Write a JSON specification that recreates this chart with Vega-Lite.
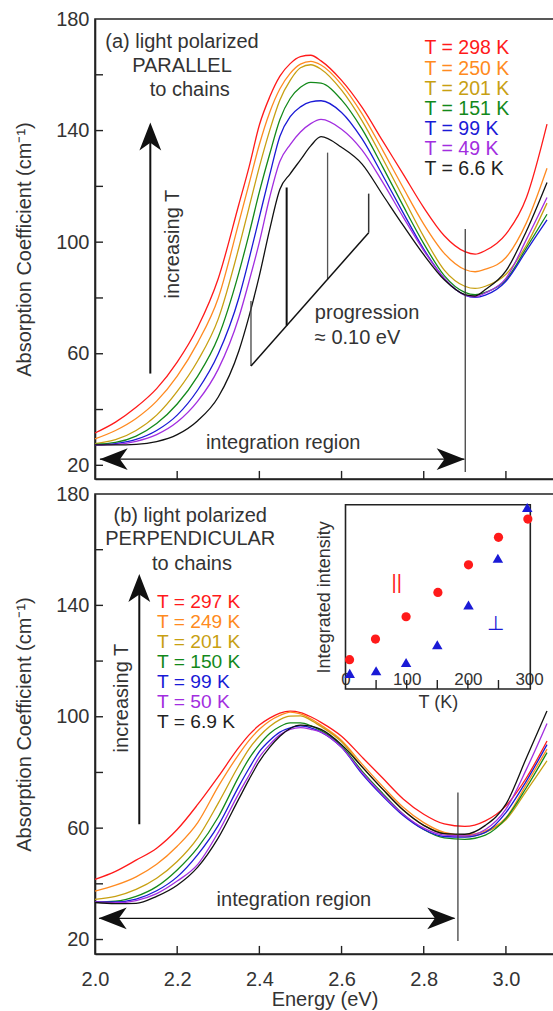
{
 "$schema": "https://vega.github.io/schema/vega-lite/v6.json",
 "padding": {"left": 13, "top": 8, "right": 0, "bottom": 0},
 "spacing": 15,
 "bounds": "flush",
 "config": {
  "font": "Liberation Sans",
  "view": {"stroke": "#222", "strokeWidth": 1.6},
  "axis": {"grid": false, "domainColor": "#222", "domainWidth": 1.6, "tickColor": "#222", "tickWidth": 1.4, "tickOpacity": 0, "labelColor": "#333", "titleColor": "#333", "labelFont": "Liberation Sans", "titleFont": "Liberation Sans", "labelFontSize": 20, "titleFontSize": 20, "titleFontWeight": "normal", "labelFlush": false, "labelOverlap": false},
  "text": {"font": "Liberation Sans", "fontSize": 20}
 },
 "datasets": {
  "a": [
   {"E":2.0,"c1":31.6,"c2":29.5,"c3":27.8,"c4":27.5,"c5":27.3,"c6":27.3,"c7":27.3},
   {"E":2.05,"c1":35.5,"c2":32.5,"c3":29.2,"c4":28.2,"c5":27.8,"c6":27.5,"c7":27.3},
   {"E":2.1,"c1":40.8,"c2":36.8,"c3":32.5,"c4":30.5,"c5":29.3,"c6":28.6,"c7":27.5},
   {"E":2.15,"c1":47.5,"c2":43,"c3":38,"c4":35,"c5":32.5,"c6":31,"c7":28.5},
   {"E":2.2,"c1":57,"c2":52,"c3":46.5,"c4":42,"c5":38,"c6":35.5,"c7":31},
   {"E":2.25,"c1":69.5,"c2":64,"c3":57.5,"c4":52,"c5":47,"c6":43,"c7":36},
   {"E":2.3,"c1":87,"c2":80,"c3":72.5,"c4":66,"c5":60,"c6":54.5,"c7":44.5},
   {"E":2.35,"c1":113.5,"c2":107,"c3":98,"c4":89,"c5":80,"c6":73,"c7":61},
   {"E":2.375,"c1":127,"c2":121,"c3":112.5,"c4":103,"c5":94,"c6":86,"c7":73.5},
   {"E":2.4,"c1":142,"c2":135,"c3":127,"c4":118,"c5":109,"c6":100,"c7":88},
   {"E":2.425,"c1":152,"c2":146.5,"c3":140,"c4":131.5,"c5":124,"c6":116,"c7":104.5},
   {"E":2.45,"c1":159.5,"c2":155,"c3":151,"c4":144,"c5":138,"c6":129,"c7":119},
   {"E":2.475,"c1":164,"c2":160.5,"c3":158,"c4":151.5,"c5":145,"c6":135,"c7":124.5},
   {"E":2.5,"c1":166.5,"c2":163.8,"c3":162.5,"c4":155.5,"c5":148.5,"c6":139.5,"c7":129.5},
   {"E":2.525,"c1":167,"c2":164.8,"c3":163.6,"c4":157.3,"c5":150.3,"c6":142.5,"c7":134.5},
   {"E":2.55,"c1":165,"c2":163.5,"c3":162,"c4":157,"c5":150.7,"c6":144,"c7":137.8},
   {"E":2.6,"c1":158,"c2":156.5,"c3":154.5,"c4":151,"c5":146.5,"c6":140.5,"c7":134},
   {"E":2.65,"c1":148.3,"c2":146,"c3":143.5,"c4":140.5,"c5":137,"c6":133,"c7":128},
   {"E":2.7,"c1":136.3,"c2":133,"c3":130,"c4":127,"c5":124,"c6":121.5,"c7":117},
   {"E":2.75,"c1":124.4,"c2":119.5,"c3":116,"c4":113,"c5":110.5,"c6":109,"c7":106},
   {"E":2.8,"c1":112.4,"c2":106.5,"c3":102,"c4":99.5,"c5":97.5,"c6":97,"c7":95.5},
   {"E":2.85,"c1":102.3,"c2":96,"c3":90,"c4":88,"c5":87,"c6":87,"c7":86.5},
   {"E":2.9,"c1":96.6,"c2":90.2,"c3":84.2,"c4":82,"c5":81,"c6":81,"c7":81.2},
   {"E":2.925,"c1":95.7,"c2":89.4,"c3":83.4,"c4":81.2,"c5":80.2,"c6":80.4,"c7":80.7},
   {"E":2.95,"c1":97,"c2":90.3,"c3":84.2,"c4":82,"c5":81,"c6":81.8,"c7":83},
   {"E":3.0,"c1":102.9,"c2":94.5,"c3":88.5,"c4":86.5,"c5":86,"c6":87,"c7":89.7},
   {"E":3.05,"c1":116,"c2":107,"c3":99,"c4":98,"c5":97,"c6":101,"c7":104},
   {"E":3.1,"c1":142.3,"c2":126.5,"c3":114,"c4":110,"c5":108,"c6":116,"c7":121.4}
  ],
  "b": [
   {"E":2.0,"c1":41.6,"c2":37.4,"c3":34.4,"c4":33.5,"c5":33.5,"c6":33.5,"c7":33.3},
   {"E":2.05,"c1":44.5,"c2":39.5,"c3":35.5,"c4":33.8,"c5":33.5,"c6":33.2,"c7":32.9},
   {"E":2.1,"c1":48.5,"c2":42.5,"c3":38,"c4":35.5,"c5":34.5,"c6":34,"c7":33},
   {"E":2.15,"c1":52.8,"c2":47,"c3":42,"c4":39,"c5":37.5,"c6":36.5,"c7":35.5},
   {"E":2.2,"c1":59.5,"c2":53.5,"c3":48,"c4":45,"c5":42.5,"c6":41,"c7":39.5},
   {"E":2.25,"c1":68.5,"c2":62,"c3":56.5,"c4":53,"c5":50.5,"c6":47,"c7":46},
   {"E":2.3,"c1":78.5,"c2":75,"c3":69,"c4":64,"c5":61,"c6":58.5,"c7":56.5},
   {"E":2.35,"c1":89,"c2":86.5,"c3":82.5,"c4":78.5,"c5":75,"c6":72.5,"c7":70.5},
   {"E":2.375,"c1":93.5,"c2":91.5,"c3":88.5,"c4":85,"c5":81.5,"c6":79,"c7":77.5},
   {"E":2.4,"c1":97,"c2":95.5,"c3":93,"c4":90,"c5":87.5,"c6":85.5,"c7":84},
   {"E":2.425,"c1":99.5,"c2":98.5,"c3":96.5,"c4":94,"c5":91.5,"c6":90,"c7":89},
   {"E":2.45,"c1":101.3,"c2":100.5,"c3":99,"c4":96.5,"c5":94.5,"c6":93.5,"c7":93},
   {"E":2.475,"c1":102,"c2":101.7,"c3":100.2,"c4":97.8,"c5":96,"c6":95.5,"c7":95.8},
   {"E":2.5,"c1":101.5,"c2":101,"c3":100.3,"c4":97.8,"c5":96.7,"c6":96.1,"c7":97},
   {"E":2.525,"c1":100,"c2":99.3,"c3":98.8,"c4":96.8,"c5":96,"c6":95.5,"c7":96.6},
   {"E":2.55,"c1":98,"c2":97,"c3":96.5,"c4":95,"c5":94.5,"c6":94.5,"c7":95.5},
   {"E":2.6,"c1":93,"c2":91.5,"c3":91,"c4":89.5,"c5":89,"c6":89,"c7":90},
   {"E":2.65,"c1":85.5,"c2":83,"c3":82,"c4":80.5,"c5":79.5,"c6":80,"c7":82},
   {"E":2.7,"c1":78,"c2":75,"c3":74,"c4":72.5,"c5":71.5,"c6":72,"c7":74},
   {"E":2.75,"c1":70.5,"c2":67.5,"c3":66.5,"c4":65,"c5":64.5,"c6":65,"c7":66.5},
   {"E":2.8,"c1":65,"c2":62,"c3":61,"c4":59.5,"c5":59.5,"c6":60,"c7":61},
   {"E":2.85,"c1":61.5,"c2":58.5,"c3":58,"c4":56.5,"c5":57,"c6":57.5,"c7":58},
   {"E":2.9,"c1":60.6,"c2":57.5,"c3":57,"c4":56,"c5":56.8,"c6":57.2,"c7":57.8},
   {"E":2.95,"c1":62.6,"c2":59,"c3":58.5,"c4":57.5,"c5":58.5,"c6":59.5,"c7":61},
   {"E":3.0,"c1":68,"c2":63.8,"c3":63,"c4":63.5,"c5":65.6,"c6":66.8,"c7":68.6},
   {"E":3.05,"c1":78.1,"c2":75.8,"c3":73.4,"c4":74.6,"c5":77,"c6":81.2,"c7":85.3},
   {"E":3.1,"c1":91.3,"c2":88.4,"c3":84.2,"c4":87.1,"c5":90,"c6":97.6,"c7":102.1}
  ],
  "ins": [
   {"T":6.6,"I":15.9,"pol":"par"},{"T":49,"I":27.1,"pol":"par"},{"T":99,"I":39.2,"pol":"par"},{"T":151,"I":52.4,"pol":"par"},{"T":201,"I":67.4,"pol":"par"},{"T":250,"I":82.3,"pol":"par"},{"T":298,"I":92.2,"pol":"par"},
   {"T":6.9,"I":8.5,"pol":"perp"},{"T":50,"I":9.9,"pol":"perp"},{"T":99,"I":14.4,"pol":"perp"},{"T":150,"I":24.0,"pol":"perp"},{"T":201,"I":45.6,"pol":"perp"},{"T":249,"I":70.9,"pol":"perp"},{"T":297,"I":98.5,"pol":"perp"}
  ],
  "insTicks": [{"T":50},{"T":100},{"T":150},{"T":200},{"T":250}],
  "yTicks": [{"v":20},{"v":40},{"v":60},{"v":80},{"v":100},{"v":120},{"v":140},{"v":160}],
  "xTicks": [{"v":2.2},{"v":2.4},{"v":2.6},{"v":2.8},{"v":3.0}]
 },
 "vconcat": [
  {
   "width": 459, "height": 460,
   "layer": [
    {
     "data": {"name": "a"},
     "transform": [{"fold": ["c1","c2","c3","c4","c5","c6","c7"], "as": ["key","A"]}],
     "mark": {"type": "line", "interpolate": "monotone", "strokeWidth": 1.3},
     "encoding": {
      "x": {"field": "E", "type": "quantitative", "scale": {"domain": [2, 3.117], "nice": false, "zero": false}, "axis": {"values": [2,2.2,2.4,2.6,2.8,3], "labels": false, "title": null, "tickSize": -8}},
      "y": {"field": "A", "type": "quantitative", "scale": {"domain": [15.1, 180], "nice": false, "zero": false}, "axis": {"values": [20,40,60,80,100,120,140,160,180], "labelExpr": "datum.value % 40 === 20 ? datum.label : ''", "title": "Absorption Coefficient (cm⁻¹)", "tickSize": -8, "labelPadding": 14, "titlePadding": 21}},
      "color": {"field": "key", "type": "nominal", "scale": {"domain": ["c1","c2","c3","c4","c5","c6","c7"], "range": ["#ff1a1a","#ff8a20","#c8a012","#13891a","#1a1ad6","#a22ee0","#111111"]}, "legend": null}
     }
    },
    {"data": {"name": "yTicks"}, "mark": {"type": "rule", "color": "#222", "strokeWidth": 1.4}, "encoding": {"y": {"field": "v", "type": "quantitative"}, "x": {"datum": 2.0, "type": "quantitative"}, "x2": {"datum": 2.0195}}},
    {"data": {"name": "xTicks"}, "mark": {"type": "rule", "color": "#222", "strokeWidth": 1.4}, "encoding": {"x": {"field": "v", "type": "quantitative"}, "y": {"datum": 15.1, "type": "quantitative"}, "y2": {"datum": 18.0}}},
    {"data": {"values": [{}]}, "mark": {"type": "text", "align": "left", "baseline": "middle", "fontSize": 19.5, "color": "#ff1a1a"}, "encoding": {"x": {"datum": 2.802, "type": "quantitative"}, "y": {"datum": 169.45, "type": "quantitative"}, "text": {"value": "T = 298 K"}}},
    {"data": {"values": [{}]}, "mark": {"type": "text", "align": "left", "baseline": "middle", "fontSize": 19.5, "color": "#ff8a20"}, "encoding": {"x": {"datum": 2.802, "type": "quantitative"}, "y": {"datum": 162.24, "type": "quantitative"}, "text": {"value": "T = 250 K"}}},
    {"data": {"values": [{}]}, "mark": {"type": "text", "align": "left", "baseline": "middle", "fontSize": 19.5, "color": "#c8a012"}, "encoding": {"x": {"datum": 2.802, "type": "quantitative"}, "y": {"datum": 155.03, "type": "quantitative"}, "text": {"value": "T = 201 K"}}},
    {"data": {"values": [{}]}, "mark": {"type": "text", "align": "left", "baseline": "middle", "fontSize": 19.5, "color": "#13891a"}, "encoding": {"x": {"datum": 2.802, "type": "quantitative"}, "y": {"datum": 147.82, "type": "quantitative"}, "text": {"value": "T = 151 K"}}},
    {"data": {"values": [{}]}, "mark": {"type": "text", "align": "left", "baseline": "middle", "fontSize": 19.5, "color": "#1a1ad6"}, "encoding": {"x": {"datum": 2.802, "type": "quantitative"}, "y": {"datum": 140.61, "type": "quantitative"}, "text": {"value": "T = 99 K"}}},
    {"data": {"values": [{}]}, "mark": {"type": "text", "align": "left", "baseline": "middle", "fontSize": 19.5, "color": "#a22ee0"}, "encoding": {"x": {"datum": 2.802, "type": "quantitative"}, "y": {"datum": 133.4, "type": "quantitative"}, "text": {"value": "T = 49 K"}}},
    {"data": {"values": [{}]}, "mark": {"type": "text", "align": "left", "baseline": "middle", "fontSize": 19.5, "color": "#222222"}, "encoding": {"x": {"datum": 2.802, "type": "quantitative"}, "y": {"datum": 126.19, "type": "quantitative"}, "text": {"value": "T = 6.6 K"}}},
    {"data": {"values": [{}]}, "mark": {"type": "text", "align": "center", "baseline": "middle", "color": "#333"}, "encoding": {"x": {"datum": 2.2117, "type": "quantitative"}, "y": {"datum": 171.6, "type": "quantitative"}, "text": {"value": "(a) light polarized"}}},
    {"data": {"values": [{}]}, "mark": {"type": "text", "align": "center", "baseline": "middle", "color": "#333"}, "encoding": {"x": {"datum": 2.2117, "type": "quantitative"}, "y": {"datum": 163.2, "type": "quantitative"}, "text": {"value": "PARALLEL"}}},
    {"data": {"values": [{}]}, "mark": {"type": "text", "align": "center", "baseline": "middle", "color": "#333"}, "encoding": {"x": {"datum": 2.2306, "type": "quantitative"}, "y": {"datum": 154.6, "type": "quantitative"}, "text": {"value": "to chains"}}},
    {"data": {"values": [{}]}, "mark": {"type": "text", "align": "center", "baseline": "middle", "angle": 270, "color": "#333"}, "encoding": {"x": {"datum": 2.189, "type": "quantitative"}, "y": {"datum": 99.3, "type": "quantitative"}, "text": {"value": "increasing T"}}},
    {"data": {"values": [{}]}, "mark": {"type": "rule", "color": "#111", "strokeWidth": 2}, "encoding": {"x": {"datum": 2.1346, "type": "quantitative"}, "y": {"datum": 52.9, "type": "quantitative"}, "y2": {"datum": 138}}},
    {"data": {"values": [{}]}, "mark": {"type": "point", "shape": "M0,-1L0.78,1L0,0.45L-0.78,1Z", "filled": true, "color": "#111", "size": 784, "opacity": 1, "strokeWidth": 0}, "encoding": {"x": {"datum": 2.1346, "type": "quantitative"}, "y": {"datum": 137.9, "type": "quantitative"}}},
    {"data": {"values": [{}]}, "mark": {"type": "rule", "color": "#111", "strokeWidth": 1.3}, "encoding": {"x": {"datum": 2.012, "type": "quantitative"}, "x2": {"datum": 2.899}, "y": {"datum": 22.2, "type": "quantitative"}}},
    {"data": {"values": [{}]}, "mark": {"type": "point", "shape": "M-1,0L1,-0.78L0.45,0L1,0.78Z", "filled": true, "color": "#111", "size": 784, "opacity": 1, "strokeWidth": 0}, "encoding": {"x": {"datum": 2.0455, "type": "quantitative"}, "y": {"datum": 22.2, "type": "quantitative"}}},
    {"data": {"values": [{}]}, "mark": {"type": "point", "shape": "M1,0L-1,-0.78L-0.45,0L-1,0.78Z", "filled": true, "color": "#111", "size": 784, "opacity": 1, "strokeWidth": 0}, "encoding": {"x": {"datum": 2.8655, "type": "quantitative"}, "y": {"datum": 22.2, "type": "quantitative"}}},
    {"data": {"values": [{}]}, "mark": {"type": "rule", "color": "#333", "strokeWidth": 1.2}, "encoding": {"x": {"datum": 2.901, "type": "quantitative"}, "y": {"datum": 17.6, "type": "quantitative"}, "y2": {"datum": 104.7}}},
    {"data": {"values": [{}]}, "mark": {"type": "text", "align": "center", "baseline": "middle", "color": "#333"}, "encoding": {"x": {"datum": 2.458, "type": "quantitative"}, "y": {"datum": 28.1, "type": "quantitative"}, "text": {"value": "integration region"}}},
    {"data": {"values": [{}]}, "mark": {"type": "rule", "color": "#444", "strokeWidth": 1.3}, "encoding": {"x": {"datum": 2.3796, "type": "quantitative"}, "y": {"datum": 55.6, "type": "quantitative"}, "y2": {"datum": 78.9}}},
    {"data": {"values": [{}]}, "mark": {"type": "rule", "color": "#111", "strokeWidth": 2}, "encoding": {"x": {"datum": 2.4664, "type": "quantitative"}, "y": {"datum": 70.1, "type": "quantitative"}, "y2": {"datum": 119.6}}},
    {"data": {"values": [{}]}, "mark": {"type": "rule", "color": "#555", "strokeWidth": 1.3}, "encoding": {"x": {"datum": 2.566, "type": "quantitative"}, "y": {"datum": 86.7, "type": "quantitative"}, "y2": {"datum": 132.1}}},
    {"data": {"values": [{}]}, "mark": {"type": "rule", "color": "#333", "strokeWidth": 1.5}, "encoding": {"x": {"datum": 2.666, "type": "quantitative"}, "y": {"datum": 103.4, "type": "quantitative"}, "y2": {"datum": 117.4}}},
    {"data": {"values": [{}]}, "mark": {"type": "rule", "color": "#111", "strokeWidth": 1.5}, "encoding": {"x": {"datum": 2.3796, "type": "quantitative"}, "x2": {"datum": 2.666}, "y": {"datum": 55.6, "type": "quantitative"}, "y2": {"datum": 103.4}}},
    {"data": {"values": [{}]}, "mark": {"type": "text", "align": "left", "baseline": "middle", "color": "#333"}, "encoding": {"x": {"datum": 2.535, "type": "quantitative"}, "y": {"datum": 74.7, "type": "quantitative"}, "text": {"value": "progression"}}},
    {"data": {"values": [{}]}, "mark": {"type": "text", "align": "left", "baseline": "middle", "color": "#333"}, "encoding": {"x": {"datum": 2.535, "type": "quantitative"}, "y": {"datum": 65.6, "type": "quantitative"}, "text": {"value": "≈ 0.10 eV"}}}
   ]
  },
  {
   "width": 459, "height": 460,
   "resolve": {"scale": {"x": "independent", "y": "independent"}, "axis": {"x": "independent", "y": "independent"}},
   "layer": [
    {
     "layer": [
      {
       "data": {"name": "b"},
       "transform": [{"fold": ["c1","c2","c3","c4","c5","c6","c7"], "as": ["key","A"]}],
       "mark": {"type": "line", "interpolate": "monotone", "strokeWidth": 1.3},
       "encoding": {
        "x": {"field": "E", "type": "quantitative", "scale": {"domain": [2, 3.117], "nice": false, "zero": false}, "axis": {"orient": "bottom", "values": [2,2.2,2.4,2.6,2.8,3], "format": ".1f", "title": "Energy (eV)", "tickSize": -8, "labelPadding": 23, "titlePadding": 0}},
        "y": {"field": "A", "type": "quantitative", "scale": {"domain": [14.8, 180], "nice": false, "zero": false}, "axis": {"orient": "left", "values": [20,40,60,80,100,120,140,160,180], "labelExpr": "datum.value % 40 === 20 ? datum.label : ''", "title": "Absorption Coefficient (cm⁻¹)", "tickSize": -8, "labelPadding": 14, "titlePadding": 21}},
        "color": {"field": "key", "type": "nominal", "scale": {"domain": ["c1","c2","c3","c4","c5","c6","c7"], "range": ["#ff1a1a","#ff8a20","#c8a012","#13891a","#1a1ad6","#a22ee0","#111111"]}, "legend": null}
       }
      },
      {"data": {"name": "yTicks"}, "mark": {"type": "rule", "color": "#222", "strokeWidth": 1.4}, "encoding": {"y": {"field": "v", "type": "quantitative"}, "x": {"datum": 2.0, "type": "quantitative"}, "x2": {"datum": 2.0195}}},
      {"data": {"name": "xTicks"}, "mark": {"type": "rule", "color": "#222", "strokeWidth": 1.4}, "encoding": {"x": {"field": "v", "type": "quantitative"}, "y": {"datum": 14.8, "type": "quantitative"}, "y2": {"datum": 17.7}}},
      {"data": {"values": [{}]}, "mark": {"type": "text", "align": "left", "baseline": "middle", "fontSize": 19.2, "color": "#ff1a1a"}, "encoding": {"x": {"datum": 2.1509, "type": "quantitative"}, "y": {"datum": 141.04, "type": "quantitative"}, "text": {"value": "T = 297 K"}}},
      {"data": {"values": [{}]}, "mark": {"type": "text", "align": "left", "baseline": "middle", "fontSize": 19.2, "color": "#ff8a20"}, "encoding": {"x": {"datum": 2.1509, "type": "quantitative"}, "y": {"datum": 133.93, "type": "quantitative"}, "text": {"value": "T = 249 K"}}},
      {"data": {"values": [{}]}, "mark": {"type": "text", "align": "left", "baseline": "middle", "fontSize": 19.2, "color": "#c8a012"}, "encoding": {"x": {"datum": 2.1509, "type": "quantitative"}, "y": {"datum": 126.77, "type": "quantitative"}, "text": {"value": "T = 201 K"}}},
      {"data": {"values": [{}]}, "mark": {"type": "text", "align": "left", "baseline": "middle", "fontSize": 19.2, "color": "#13891a"}, "encoding": {"x": {"datum": 2.1509, "type": "quantitative"}, "y": {"datum": 119.66, "type": "quantitative"}, "text": {"value": "T = 150 K"}}},
      {"data": {"values": [{}]}, "mark": {"type": "text", "align": "left", "baseline": "middle", "fontSize": 19.2, "color": "#1a1ad6"}, "encoding": {"x": {"datum": 2.1509, "type": "quantitative"}, "y": {"datum": 112.54, "type": "quantitative"}, "text": {"value": "T = 99 K"}}},
      {"data": {"values": [{}]}, "mark": {"type": "text", "align": "left", "baseline": "middle", "fontSize": 19.2, "color": "#a22ee0"}, "encoding": {"x": {"datum": 2.1509, "type": "quantitative"}, "y": {"datum": 105.39, "type": "quantitative"}, "text": {"value": "T = 50 K"}}},
      {"data": {"values": [{}]}, "mark": {"type": "text", "align": "left", "baseline": "middle", "fontSize": 19.2, "color": "#222222"}, "encoding": {"x": {"datum": 2.1509, "type": "quantitative"}, "y": {"datum": 98.27, "type": "quantitative"}, "text": {"value": "T = 6.9 K"}}},
      {"data": {"values": [{}]}, "mark": {"type": "text", "align": "center", "baseline": "middle", "color": "#333"}, "encoding": {"x": {"datum": 2.2319, "type": "quantitative"}, "y": {"datum": 172.2, "type": "quantitative"}, "text": {"value": "(b) light polarized"}}},
      {"data": {"values": [{}]}, "mark": {"type": "text", "align": "center", "baseline": "middle", "color": "#333"}, "encoding": {"x": {"datum": 2.2319, "type": "quantitative"}, "y": {"datum": 163.8, "type": "quantitative"}, "text": {"value": "PERPENDICULAR"}}},
      {"data": {"values": [{}]}, "mark": {"type": "text", "align": "center", "baseline": "middle", "color": "#333"}, "encoding": {"x": {"datum": 2.236, "type": "quantitative"}, "y": {"datum": 154.8, "type": "quantitative"}, "text": {"value": "to chains"}}},
      {"data": {"values": [{}]}, "mark": {"type": "text", "align": "center", "baseline": "middle", "angle": 270, "color": "#333"}, "encoding": {"x": {"datum": 2.0657, "type": "quantitative"}, "y": {"datum": 106.7, "type": "quantitative"}, "text": {"value": "increasing T"}}},
      {"data": {"values": [{}]}, "mark": {"type": "rule", "color": "#111", "strokeWidth": 2}, "encoding": {"x": {"datum": 2.1078, "type": "quantitative"}, "y": {"datum": 61.4, "type": "quantitative"}, "y2": {"datum": 146.5}}},
      {"data": {"values": [{}]}, "mark": {"type": "point", "shape": "M0,-1L0.78,1L0,0.45L-0.78,1Z", "filled": true, "color": "#111", "size": 784, "opacity": 1, "strokeWidth": 0}, "encoding": {"x": {"datum": 2.1078, "type": "quantitative"}, "y": {"datum": 146.2, "type": "quantitative"}}},
      {"data": {"values": [{}]}, "mark": {"type": "rule", "color": "#111", "strokeWidth": 1.3}, "encoding": {"x": {"datum": 2.01, "type": "quantitative"}, "x2": {"datum": 2.875}, "y": {"datum": 27.6, "type": "quantitative"}}},
      {"data": {"values": [{}]}, "mark": {"type": "point", "shape": "M-1,0L1,-0.78L0.45,0L1,0.78Z", "filled": true, "color": "#111", "size": 784, "opacity": 1, "strokeWidth": 0}, "encoding": {"x": {"datum": 2.0431, "type": "quantitative"}, "y": {"datum": 27.6, "type": "quantitative"}}},
      {"data": {"values": [{}]}, "mark": {"type": "point", "shape": "M1,0L-1,-0.78L-0.45,0L-1,0.78Z", "filled": true, "color": "#111", "size": 784, "opacity": 1, "strokeWidth": 0}, "encoding": {"x": {"datum": 2.8426, "type": "quantitative"}, "y": {"datum": 27.6, "type": "quantitative"}}},
      {"data": {"values": [{}]}, "mark": {"type": "rule", "color": "#333", "strokeWidth": 1.2}, "encoding": {"x": {"datum": 2.8832, "type": "quantitative"}, "y": {"datum": 19.5, "type": "quantitative"}, "y2": {"datum": 72.8}}},
      {"data": {"values": [{}]}, "mark": {"type": "text", "align": "center", "baseline": "middle", "color": "#333"}, "encoding": {"x": {"datum": 2.484, "type": "quantitative"}, "y": {"datum": 34.2, "type": "quantitative"}, "text": {"value": "integration region"}}}
     ]
    },
    {
     "layer": [
      {
       "data": {"values": [{}]},
       "mark": {"type": "rect", "filled": false, "color": "#222", "strokeWidth": 1.6},
       "encoding": {
        "x": {"datum": 0, "type": "quantitative", "scale": {"domain": [0, 302], "range": [250.5, 435.3], "nice": false, "zero": false}, "axis": {"orient": "bottom", "offset": -291, "values": [0,50,100,150,200,250,300], "labelExpr": "datum.value % 100 === 0 ? datum.label : ''", "title": "T (K)", "labelFontSize": 17, "titleFontSize": 18, "tickSize": -9, "labelPadding": 17, "titlePadding": 6, "domain": false}},
        "x2": {"datum": 302},
        "y": {"datum": 0, "type": "quantitative", "scale": {"domain": [0, 100], "range": [195, 10.7], "nice": false, "zero": false}, "axis": {"orient": "left", "offset": -250.5, "domain": false, "ticks": false, "labels": false, "title": "Integrated intensity", "titleFontSize": 18, "titlePadding": 12}},
        "y2": {"datum": 100}
       }
      },
      {"data": {"name": "insTicks"}, "mark": {"type": "rule", "color": "#222", "strokeWidth": 1.4}, "encoding": {"x": {"field": "T", "type": "quantitative"}, "y": {"datum": 0, "type": "quantitative"}, "y2": {"datum": 4.9}}},
      {"data": {"name": "ins"}, "transform": [{"filter": "datum.pol === 'par'"}], "mark": {"type": "point", "shape": "circle", "filled": true, "color": "#ff1a1a", "size": 85, "opacity": 1}, "encoding": {"x": {"field": "T", "type": "quantitative"}, "y": {"field": "I", "type": "quantitative"}}},
      {"data": {"name": "ins"}, "transform": [{"filter": "datum.pol === 'perp'"}], "mark": {"type": "point", "shape": "triangle-up", "filled": true, "color": "#1a1ad6", "size": 110, "opacity": 1}, "encoding": {"x": {"field": "T", "type": "quantitative"}, "y": {"field": "I", "type": "quantitative"}}},
      {"data": {"values": [{}]}, "mark": {"type": "text", "align": "center", "baseline": "middle", "color": "#ff1a1a", "fontSize": 20}, "encoding": {"x": {"datum": 83.8, "type": "quantitative"}, "y": {"datum": 57.3, "type": "quantitative"}, "text": {"value": "||"}}},
      {"data": {"values": [{}]}, "mark": {"type": "text", "align": "center", "baseline": "middle", "color": "#1a1ad6", "fontSize": 20}, "encoding": {"x": {"datum": 244.4, "type": "quantitative"}, "y": {"datum": 35.3, "type": "quantitative"}, "text": {"value": "⊥"}}}
     ]
    }
   ]
  }
 ]
}
